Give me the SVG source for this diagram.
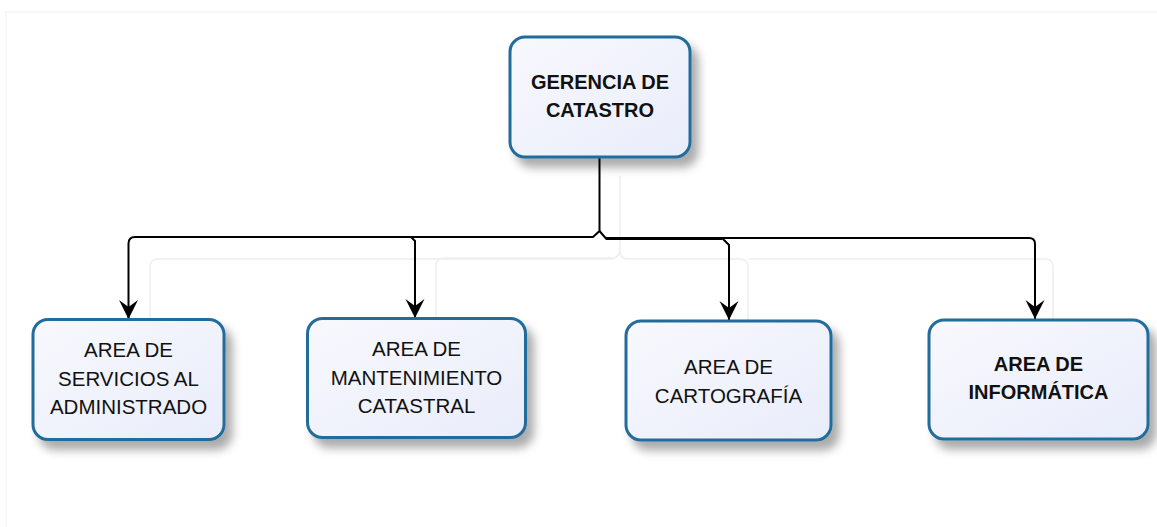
<svg xmlns="http://www.w3.org/2000/svg" width="1157" height="527" viewBox="0 0 1157 527">
<defs>
<linearGradient id="boxFill" x1="0" y1="0" x2="1" y2="1">
<stop offset="0" stop-color="#f8f9fe"/>
<stop offset="1" stop-color="#e9ecfa"/>
</linearGradient>
<filter id="shadow" x="-20%" y="-20%" width="150%" height="160%">
<feDropShadow dx="7" dy="9" stdDeviation="5" flood-color="#000" flood-opacity="0.33"/>
</filter>
<marker id="arrow" markerUnits="userSpaceOnUse" markerWidth="22" markerHeight="22" viewBox="-20 -11 22 22" refX="0" refY="0" orient="auto">
<path d="M0,0 L-19,-9.5 L-12,0 L-19,9.5 Z" fill="#000"/>
</marker>
<style>
.box{fill:url(#boxFill);stroke:#236c9c;stroke-width:3;filter:url(#shadow)}
.t{font-family:"Liberation Sans",Arial,sans-serif;font-size:20.5px;fill:#111;text-anchor:middle}
.b{font-weight:bold;font-size:20px}
.conn{fill:none;stroke:#000;stroke-width:2}
.ghost{fill:none;stroke:#eeeeee;stroke-width:1.5}
.frame{fill:none;stroke:#f6f6f6;stroke-width:1.5}
</style>
</defs>
<rect width="1157" height="527" fill="#fff"/>
<g id="ghosts">
<path class="frame" d="M6,527 V12 H1157"/>
<path class="ghost" d="M150,318 V267 Q150,259 158,259 H612 Q620,257 620,249 V176"/>
<path class="ghost" d="M436,318 V266 Q436,258 444,258 H612"/>
<path class="ghost" d="M620,251 Q620,259 628,259 H740 Q748,259 748,267 V322"/>
<path class="ghost" d="M748,259 H1045 Q1053,259 1053,267 V320"/>
</g>
<g id="connectors">
<path class="conn" d="M599.5,158 V231 L593,237 H135 Q128.5,237 128.5,243.5 V319" marker-end="url(#arrow)"/>
<path class="conn" d="M411,237 L415,241 V318" marker-end="url(#arrow)"/>
<path class="conn" d="M599.5,231 L605.5,238 H722 L729,245 V320" marker-end="url(#arrow)"/>
<path class="conn" d="M605.5,239 H722"/>
<path class="conn" d="M722,238 H1029 Q1035,238 1035,244 V319" marker-end="url(#arrow)"/>
</g>
<g id="gerencia">
<rect class="box" x="510" y="37" width="180" height="120" rx="15"/>
<text class="t b" x="600" y="89">GERENCIA DE</text>
<text class="t b" x="600" y="117">CATASTRO</text>
</g>
<g id="servicios">
<rect class="box" x="33" y="319.5" width="191" height="120" rx="15"/>
<text class="t" x="128.5" y="357">AREA DE</text>
<text class="t" x="128.5" y="385.5">SERVICIOS AL</text>
<text class="t" x="128.5" y="414">ADMINISTRADO</text>
</g>
<g id="mantenimiento">
<rect class="box" x="307.5" y="318.5" width="218" height="119" rx="15"/>
<text class="t" x="416.5" y="356">AREA DE</text>
<text class="t" x="416.5" y="384.5">MANTENIMIENTO</text>
<text class="t" x="416.5" y="413">CATASTRAL</text>
</g>
<g id="cartografia">
<rect class="box" x="626" y="321" width="205" height="119" rx="15"/>
<text class="t" x="728.5" y="374">AREA DE</text>
<text class="t" x="728.5" y="402.5">CARTOGRAFÍA</text>
</g>
<g id="informatica">
<rect class="box" x="929" y="320" width="219" height="119" rx="15"/>
<text class="t b" x="1038.5" y="371">AREA DE</text>
<text class="t b" x="1038.5" y="399">INFORMÁTICA</text>
</g>
</svg>
